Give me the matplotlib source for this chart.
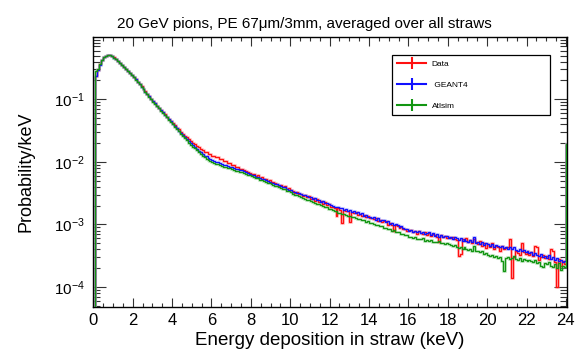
import numpy as np
import matplotlib
matplotlib.use("Agg")
import matplotlib.pyplot as plt
from matplotlib.lines import Line2D
from matplotlib.ticker import MultipleLocator, LogLocator, NullFormatter

plt.rcParams['font.family'] = ['Liberation Sans', 'DejaVu Sans']
plt.rcParams['mathtext.fontset'] = 'custom'
plt.rcParams['mathtext.rm'] = 'Liberation Sans'
plt.rcParams['mathtext.it'] = 'Liberation Sans:italic'

# Histogram binning (keV): 0.1 keV bins from 0.1 to 24 keV, plus an overflow bin
E_MIN = 0.1
BIN_WIDTH = 0.1
N_BINS = 239
SCALE = 1e-5   # stored contents are Probability/keV in units of 1e-5

data = [
    23500, 29000, 36200, 42500, 47200, 50100, 51300, 50600, 48900, 46600,
    44200, 41400, 38700, 35800, 33200, 30700, 28600, 26500, 24700, 22900,
    21100, 19200, 17600, 16100, 14700, 13400, 12300, 11200, 10300, 9400,
    8660, 7960, 7350, 6760, 6260, 5760, 5300, 4870, 4490, 4120,
    3820, 3510, 3300, 3000, 2840, 2610, 2480, 2290, 2170, 1990,
    1920, 1770, 1720, 1590, 1560, 1450, 1430, 1350, 1340, 1260,
    1265, 1200, 1195, 1130, 1120, 1045, 1030, 960, 945, 890,
    880, 830, 820, 780, 772, 732, 722, 686, 675, 640,
    630, 598, 612, 560, 571, 540, 528, 498, 510, 470,
    481, 452, 441, 417, 430, 393, 405, 372, 376, 350,
    345, 320, 332, 305, 312, 286, 298, 270, 281, 255,
    268, 240, 252, 230, 236, 215, 226, 205, 212, 192,
    190, 182, 135, 180, 172, 105, 170, 166, 162, 108,
    158, 150, 157, 143, 149, 139, 143, 131, 137, 126,
    125, 121, 126, 112, 118, 109, 114, 112, 99, 106,
    99, 78, 97, 93, 88, 92, 84, 86, 80, 82,
    81, 76, 80, 71, 78, 74, 70, 76, 68, 73,
    66, 71, 69, 62, 52, 67, 64, 66, 61, 62,
    61, 64, 58, 57, 31, 34, 58, 55, 60, 52,
    56, 51, 58, 53, 48, 55, 46, 51, 42, 49,
    44, 50, 41, 46, 43, 38, 45, 40, 42, 44,
    58, 14, 30, 37, 35, 33, 50, 36, 34, 37,
    33, 36, 31, 46, 44, 27, 30, 33, 29, 31,
    28, 40, 38, 25, 10, 28, 22, 26, 23,
]

geant4 = [
    24000, 29200, 35800, 42100, 46900, 49700, 51100, 50200, 48700, 46400,
    44100, 41200, 38600, 35500, 33100, 30500, 28500, 26300, 24600, 22700,
    20950, 19050, 17550, 15950, 14650, 13300, 12250, 11100, 10250, 9320,
    8630, 7890, 7330, 6690, 6230, 5680, 5260, 4790, 4440, 4040,
    3740, 3440, 3140, 2900, 2690, 2470, 2310, 2120, 1985, 1830,
    1730, 1605, 1520, 1415, 1350, 1265, 1220, 1150, 1120, 1065,
    1045, 1002, 988, 948, 942, 902, 878, 868, 842, 822,
    811, 784, 772, 745, 738, 712, 690, 668, 650, 618,
    608, 582, 575, 548, 540, 528, 512, 492, 485, 468,
    458, 441, 438, 420, 412, 398, 392, 372, 361, 352,
    331, 335, 318, 322, 305, 296, 300, 282, 276, 272,
    258, 264, 245, 247, 232, 236, 222, 218, 212, 203,
    199, 192, 190, 189, 180, 183, 172, 178, 166, 170,
    161, 165, 150, 156, 148, 150, 139, 144, 134, 131,
    127, 130, 119, 125, 114, 118, 116, 108, 113, 103,
    107, 98, 101, 99, 90, 95, 88, 86, 84, 80,
    83, 77, 80, 76, 79, 72, 77, 70, 74, 75,
    67, 72, 66, 70, 64, 69, 63, 66, 65, 61,
    62, 58, 64, 60, 56, 61, 55, 59, 54, 53,
    56, 52, 62, 51, 53, 49, 52, 47, 50, 48,
    46, 48, 44, 47, 45, 43, 46, 42, 44, 41,
    43, 40, 44, 39, 38, 41, 37, 39, 36, 37,
    35, 36, 33, 35, 32, 31, 34, 30, 31, 29,
    32, 28, 30, 27, 29, 26, 27, 25, 26,
]

atlsim = [
    28500, 30500, 36500, 42600, 47300, 50000, 51200, 50300, 48600, 46300,
    43900, 41100, 38400, 35400, 32900, 30300, 28200, 26100, 24300, 22500,
    20700, 18900, 17300, 15800, 14450, 13150, 12050, 10980, 10080, 9200,
    8480, 7800, 7180, 6600, 6080, 5590, 5140, 4720, 4330, 3970,
    3650, 3340, 3060, 2810, 2590, 2380, 2200, 2030, 1880, 1740,
    1650, 1530, 1430, 1340, 1260, 1190, 1130, 1075, 1030, 990,
    976, 938, 921, 885, 872, 840, 828, 799, 787, 760,
    751, 724, 716, 688, 681, 656, 647, 622, 614, 589,
    577, 552, 545, 522, 514, 493, 485, 464, 459, 438,
    432, 413, 409, 390, 386, 367, 364, 347, 344, 327,
    311, 298, 292, 281, 277, 263, 259, 250, 244, 233,
    231, 223, 214, 211, 203, 197, 193, 187, 179, 176,
    170, 163, 162, 155, 154, 148, 147, 144, 138, 137,
    132, 133, 126, 124, 123, 117, 118, 111, 112, 106,
    104, 102, 98, 97, 93, 93, 89, 89, 85, 84,
    80, 81, 77, 76, 75, 71, 71, 68, 68, 64,
    64, 61, 62, 58, 59, 58, 60, 55, 56, 54,
    57, 52, 53, 52, 54, 50, 51, 48, 50, 48,
    47, 45, 47, 44, 42, 44, 41, 43, 40, 39,
    41, 38, 45, 37, 38, 36, 37, 34, 35, 33,
    31, 32, 30, 31, 29, 30, 26, 18, 29, 30,
    28, 29, 31, 28, 27, 29, 26, 28, 27, 26,
    27, 26, 25, 27, 24, 25, 22, 21, 24, 23,
    25, 22, 21, 23, 20, 24, 19, 22, 21,
]

# Overflow contents (E > 24 keV), same units
overflow = {"Data": 1940, "GEANT4": 1945, "Atlsim": 1950}

labels = ["Data", " GEANT4", "Atlsim"]
series = [data, geant4, atlsim]
keys = ["Data", "GEANT4", "Atlsim"]
colors = ["#ff1010", "#1010ff", "#129612"]
halo_colors = ["#ff9090", "#9aa8ff", "#8fd08f"]

title = "20 GeV pions, PE 67\u03bcm/3mm, averaged over all straws"
xlabel = "Energy deposition in straw (keV)"
ylabel = "Probability/keV"

fig = plt.figure(figsize=(5.85, 3.6), dpi=100)
ax = fig.add_axes([93.3 / 585, 53 / 360, 473.4 / 585, 270 / 360])

edges = np.round(E_MIN + BIN_WIDTH * np.arange(N_BINS + 2), 6)
for vals, key, c, hc in zip(series, keys, colors, halo_colors):
    y = np.append(np.asarray(vals, float), overflow[key]) * SCALE
    ax.stairs(y, edges, baseline=1e-7, color=hc, lw=2.2, alpha=0.35, zorder=3)
    ax.stairs(y, edges, baseline=1e-7, color=c, lw=1.0, zorder=4)

ax.set_xlim(0, 24.04)
ax.set_yscale("log")
ax.set_ylim(4.8e-5, 0.99)

ax.xaxis.set_major_locator(MultipleLocator(2))
ax.xaxis.set_minor_locator(MultipleLocator(0.5))
ax.yaxis.set_major_locator(LogLocator(base=10, numticks=10))
ax.yaxis.set_minor_locator(LogLocator(base=10, subs=np.arange(2, 10), numticks=20))
ax.yaxis.set_minor_formatter(NullFormatter())

ax.tick_params(axis="both", which="both", direction="in", top=True, right=True,
               color="#333333", width=0.8)
ax.tick_params(axis="x", which="major", length=6.5, labelsize=12, pad=4)
ax.tick_params(axis="x", which="minor", length=3)
ax.tick_params(axis="y", which="major", length=9.5, labelsize=11, pad=6)
ax.tick_params(axis="y", which="minor", length=5)
for s in ax.spines.values():
    s.set_linewidth(1.0)
    s.set_zorder(2.5)

ax.set_xlabel(xlabel, fontsize=13.5)
ax.xaxis.label.set_va("baseline")
ax.xaxis.set_label_coords(0.5, (307 - 345) / 270)
ax.set_ylabel(ylabel, fontsize=13)
ax.yaxis.label.set_va("center")
ax.yaxis.set_label_coords((26 - 93.3) / 473.4, 0.5)

fig.text(304 / 585, (360 - 28) / 360, title, ha="center", va="baseline", fontsize=11)

handles = [Line2D([], [], color=c, lw=1.5, marker="|", markersize=9,
                  markeredgewidth=1.5) for c in colors]
leg = fig.legend(handles, labels, loc="upper left",
                 bbox_to_anchor=(392 / 585, 1 - 119 / 360, 158 / 585, 64 / 360),
                 mode="expand", fontsize=6, handlelength=3.4, handletextpad=0.7,
                 labelspacing=1.55, borderpad=0.65, borderaxespad=0,
                 fancybox=False, framealpha=1, edgecolor="black")
leg.get_frame().set_linewidth(0.9)

fig.savefig("out.png", dpi=100)
